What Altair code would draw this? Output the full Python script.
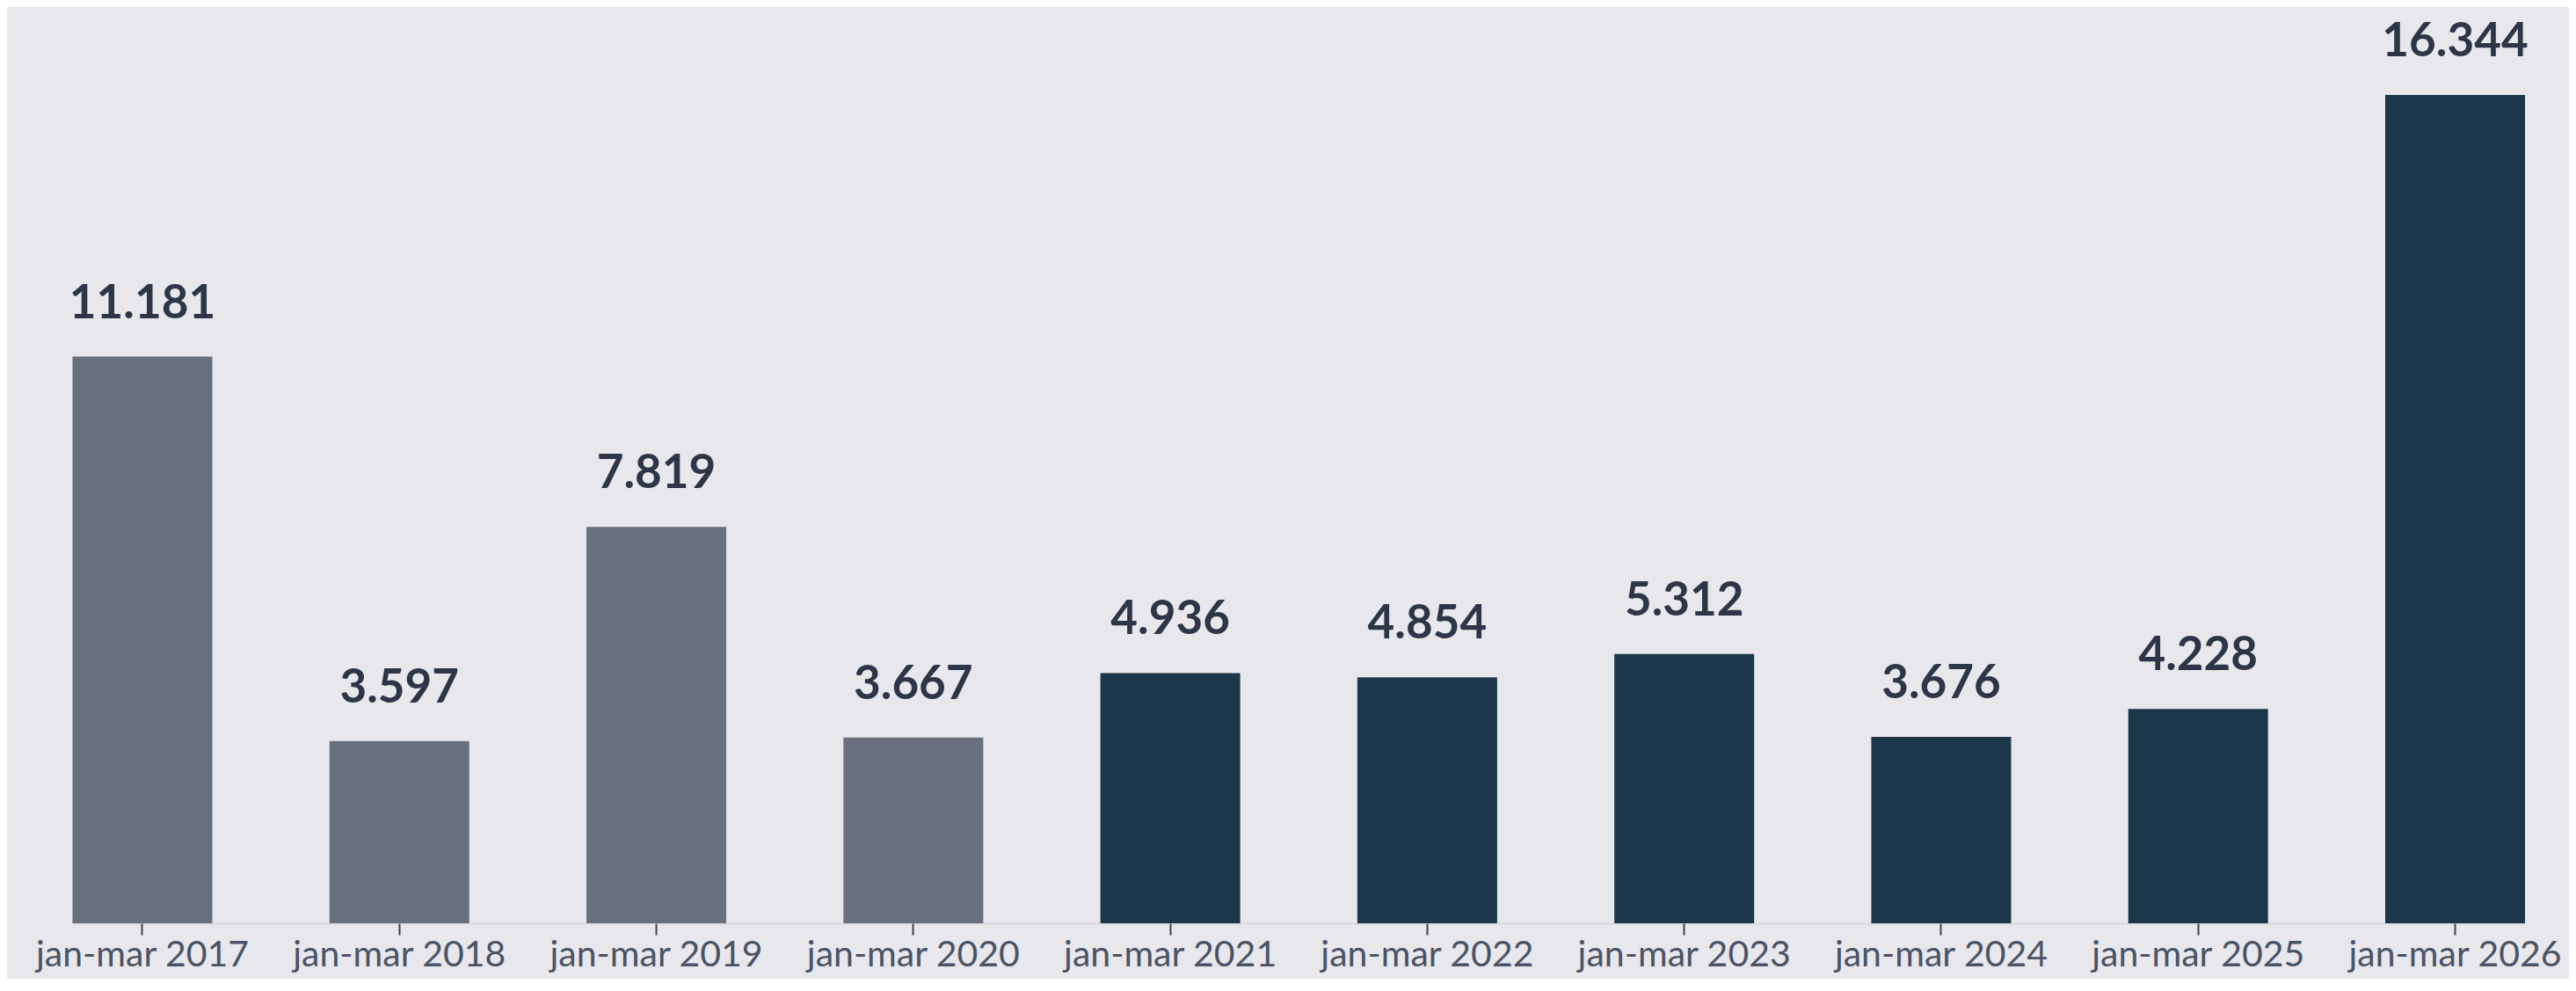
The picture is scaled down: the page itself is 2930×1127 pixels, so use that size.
import altair as alt
import pandas as pd

periods = ["jan-mar 2017", "jan-mar 2018", "jan-mar 2019", "jan-mar 2020", "jan-mar 2021",
           "jan-mar 2022", "jan-mar 2023", "jan-mar 2024", "jan-mar 2025", "jan-mar 2026"]
values = [11181, 3597, 7819, 3667, 4936, 4854, 5312, 3676, 4228, 16344]
groups = ["oud", "oud", "oud", "oud", "nieuw", "nieuw", "nieuw", "nieuw", "nieuw", "nieuw"]

df = pd.DataFrame({
    "periode": periods,
    "waarde": values,
    "groep": groups,
    "label": [f"{v:,}".replace(",", ".") for v in values],
})

BG = "#e8e7ec"
FONT = "Lato"

x = alt.X("periode:N", sort=periods, title=None,
          scale=alt.Scale(range=[74.5, 2864], paddingInner=0.456, paddingOuter=0),
          axis=alt.Axis(labelAngle=0, labelFont=FONT, labelFontSize=41, labelColor="#4a5466",
                        tickColor="#3a4150", tickSize=13, tickWidth=2, domain=False,
                        labelPadding=3, labelOverlap=False, labelLimit=0))
y = alt.Y("waarde:Q", title=None,
          scale=alt.Scale(domain=[0, 18078], nice=False),
          axis=alt.Axis(values=[0], grid=True, gridColor="#d9d8de", gridWidth=2,
                        labels=False, ticks=False, domain=False))

bars = alt.Chart(df).mark_bar().encode(
    x=x, y=y,
    color=alt.Color("groep:N", scale=alt.Scale(domain=["oud", "nieuw"], range=["#696f7d", "#1b3749"]),
                    legend=None),
)

text = alt.Chart(df).mark_text(font=FONT, fontSize=53, fontWeight="bold", color="#2d3648",
                               baseline="alphabetic", align="center", dy=-44).encode(
    x=alt.X("periode:N", sort=periods), y="waarde:Q", text="label:N")

chart = alt.layer(bars, text).properties(
    width=2914, height=1042,
    background=BG,
    padding={"left": 0, "right": 0, "top": 0, "bottom": 63},
    autosize=alt.AutoSizeParams(type="none"),
).configure_view(strokeWidth=0)

chart.save("out.html", embed_options={"renderer": "svg", "actions": False})
